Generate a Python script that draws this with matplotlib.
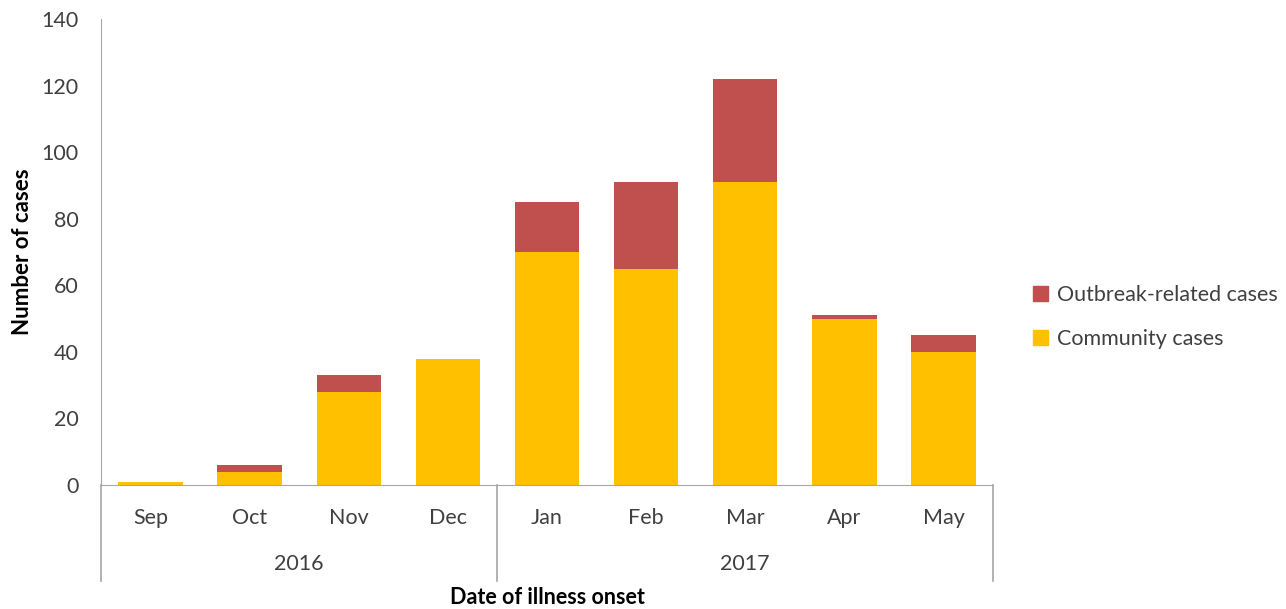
import numpy as np
import matplotlib.pyplot as plt
from matplotlib.patches import Patch

months = ["Sep", "Oct", "Nov", "Dec", "Jan", "Feb", "Mar", "Apr", "May"]
years = ["2016", "2017"]
year_span = [4, 5]  # months per year group
community = [1, 4, 28, 38, 70, 65, 91, 50, 40]
outbreak = [0, 2, 5, 0, 15, 26, 31, 1, 5]

plt.rcParams["font.family"] = ["Lato", "DejaVu Sans"]

fig = plt.figure(figsize=(12.86, 6.09), dpi=100)
ax = fig.add_axes([101 / 1286, 1 - 485 / 609, (993 - 101) / 1286, (485 - 19) / 609])

x = np.arange(len(months))
ax.bar(x, community, width=0.65, color="#FFC000", label="Community cases")
ax.bar(x, outbreak, width=0.65, bottom=community, color="#C0504D", label="Outbreak-related cases")

ax.set_xlim(-0.5, len(months) - 0.5)
ax.set_ylim(0, 140)
ax.set_yticks(range(0, 141, 20))
ax.tick_params(axis="y", length=0, labelsize=15.5, colors="#404040", pad=16)
ax.set_xticks([])
for s in ["top", "right"]:
    ax.spines[s].set_visible(False)
for s in ["left", "bottom"]:
    ax.spines[s].set_color("#A6A6A6")

ax.set_ylabel("Number of cases", fontsize=16, fontweight="bold", labelpad=6)

# two-level category axis drawn below the plot
trans = ax.get_xaxis_transform()
for i, m in enumerate(months):
    ax.text(i, -0.07, m, transform=trans, ha="center", va="center", fontsize=15.5, color="#404040")

bounds = np.concatenate([[0], np.cumsum(year_span)]) - 0.5
for b in bounds:
    ax.plot([b, b], [0, -0.205], transform=trans, color="#A6A6A6", lw=1.2, clip_on=False)
for i, yr in enumerate(years):
    mid = (bounds[i] + bounds[i + 1]) / 2
    ax.text(mid, -0.17, yr, transform=trans, ha="center", va="center", fontsize=15.5, color="#404040")

fig.text(547 / 1286, 1 - 598 / 609, "Date of illness onset", ha="center", va="center",
         fontsize=15.5, fontweight="bold")

handles = [Patch(color="#C0504D", label="Outbreak-related cases"),
           Patch(color="#FFC000", label="Community cases")]
fig.legend(handles=handles, loc="center left", bbox_to_anchor=(1014 / 1286, 1 - 317 / 609),
           frameon=False, fontsize=15.5, handlelength=0.7, handleheight=0.7,
           handletextpad=0.4, labelspacing=1.1, labelcolor="#404040")

fig.savefig("out.png", dpi=100)
